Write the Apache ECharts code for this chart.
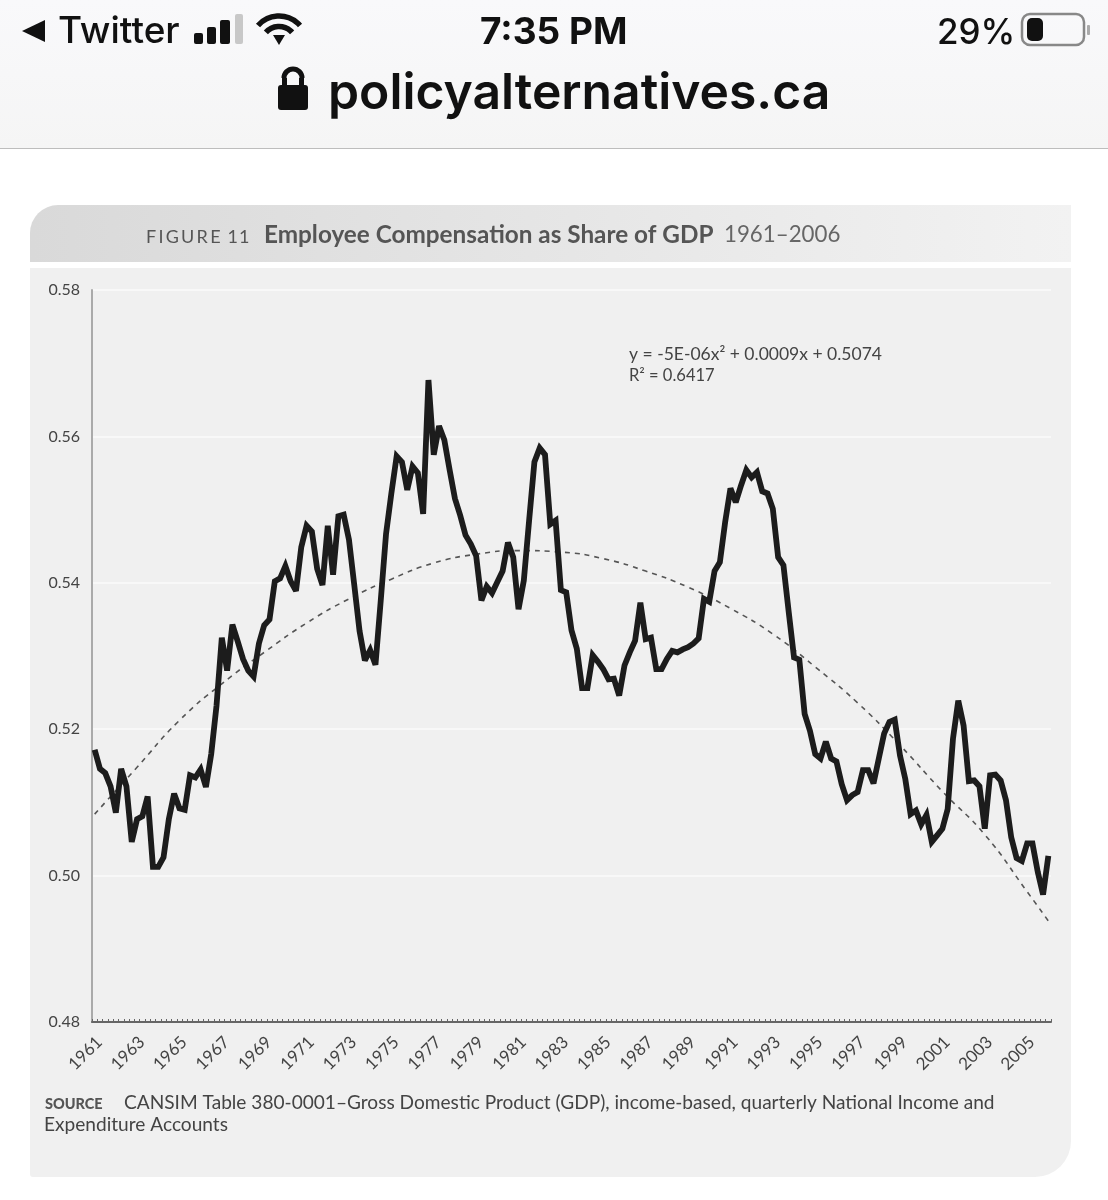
<!DOCTYPE html>
<html><head><meta charset="utf-8">
<style>html,body{margin:0;padding:0;background:#fff}#c{width:1108px;height:1200px}</style>
<script src="https://cdn.jsdelivr.net/npm/echarts@6/dist/echarts.min.js"></script>
</head><body><div id="c"></div>
<script>
const yearTicks = ['1961','1963','1965','1967','1969','1971','1973','1975','1977','1979','1981','1983','1985','1987','1989','1991','1993','1995','1997','1999','2001','2003','2005'];
const yTicks = [0.48,0.50,0.52,0.54,0.56,0.58];
const share = [
.5172,.5146,.5140,.5122,.5086,.5146,.5122,.5046,.5077,.5081,.5108,.5012,.5012,.5025,.5077,.5112,.5092,.5090,.5137,.5134,
.5145,.5121,.5166,.5232,.5325,.5280,.5343,.5320,.5296,.5280,.5272,.5317,.5342,.5350,.5402,.5406,.5423,.5402,.5389,.5449,
.5478,.5470,.5419,.5397,.5478,.5411,.5491,.5493,.5459,.5397,.5334,.5294,.5308,.5288,.5376,.5467,.5522,.5573,.5565,.5527,
.5559,.5550,.5494,.5677,.5575,.5614,.5595,.5554,.5515,.5492,.5465,.5453,.5437,.5376,.5395,.5386,.5401,.5416,.5455,.5435,
.5364,.5403,.5485,.5565,.5584,.5575,.5480,.5485,.5390,.5387,.5335,.5310,.5256,.5256,.5301,.5292,.5282,.5268,.5269,.5246,
.5287,.5305,.5321,.5373,.5323,.5325,.5282,.5282,.5296,.5307,.5305,.5309,.5312,.5317,.5324,.5378,.5374,.5416,.5428,.5483,
.5529,.5510,.5533,.5554,.5544,.5551,.5525,.5522,.5501,.5435,.5424,.5360,.5298,.5295,.5221,.5198,.5166,.5160,.5183,.5160,
.5156,.5125,.5103,.5110,.5114,.5144,.5144,.5126,.5160,.5194,.5210,.5213,.5164,.5132,.5084,.5089,.5070,.5083,.5046,.5055,
.5064,.5091,.5187,.5239,.5205,.5129,.5130,.5122,.5064,.5137,.5138,.5130,.5103,.5052,.5024,.5020,.5044,.5044,.5005,.4974,.5027];
const trendQuarterIndex = [0,8,16,24,32,40,48,56,64,72,80,88,96,104,112,120,128,136,144,152,160,168,176,180];
const trendValues = [.5084,.5148,.5212,.5262,.5305,.5345,.5378,.5405,.5427,.5439,.5444,.5442,.5433,.5416,.5394,.5365,.5330,.5285,.5236,.5178,.5115,.5056,.4978,.4938];

const categories = share.map((_, i) => (1961 + Math.floor(i / 4)) + ' Q' + (i % 4 + 1));
const trendData = trendQuarterIndex.map((q, i) => [q, trendValues[i]]);
const font = 'Lato';
const ui = 'Inter';
const txt = (x, y, text, size, weight, fill, family) => ({type:'text', silent:true, style:{x, y, text, fontSize:size, fontWeight:weight, fill, fontFamily:family||font, textVerticalAlign:'middle'}});
const rect = (x, y, w, h, fill, r) => ({type:'rect', silent:true, shape:{x, y, width:w, height:h, r:r||0}, style:{fill}});
const arcUp = (cx, cy, r, w) => ({type:'arc', silent:true, shape:{cx, cy, r, startAngle:-Math.PI*0.77, endAngle:-Math.PI*0.23}, style:{stroke:'#111', fill:null, lineWidth:w}});

const graphic = [
  {type:'rect', silent:true, shape:{x:0,y:0,width:1108,height:148}, style:{fill:{type:'linear',x:0,y:0,x2:0,y2:1,colorStops:[{offset:0,color:'#f9f9fb'},{offset:1,color:'#f5f5f5'}]}}},
  rect(0,148,1108,1,'#bdbdbd'),
  {type:'polygon', silent:true, shape:{points:[[22,31],[45,20],[45,42]]}, style:{fill:'#111'}},
  txt(58,32,'Twitter',37,500,'#111',ui),
  rect(194,33,9,11,'#111',2), rect(207,27,9,17,'#111',2), rect(220,20,10,24,'#111',2),
  rect(235,14,8,30,'#c8c8c8',2),
  arcUp(279,44,28,5.5), arcUp(279,44,17.5,5.5),
  {type:'polygon', silent:true, shape:{points:[[273,35],[285,35],[279,45]]}, style:{fill:'#111'}},
  txt(480,33,'7:35 PM',37,700,'#111',ui),
  txt(937,33,'29%',35,500,'#111',ui),
  {type:'rect', silent:true, shape:{x:1022,y:14,width:62,height:31,r:8}, style:{fill:'none',stroke:'#888',lineWidth:2.5}},
  rect(1027,18,16,23,'#111',5),
  rect(1087,25,3,10,'#aaa',1),
  {type:'arc', silent:true, shape:{cx:293,cy:78,r:9,startAngle:Math.PI,endAngle:0}, style:{stroke:'#111',fill:null,lineWidth:5}},
  rect(282,78,5,10,'#111'), rect(299,78,5,10,'#111'),
  rect(278,85,30,25,'#111',3),
  txt(328,94,'policyalternatives.ca',49.8,600,'#111',ui),

  {type:'rect', silent:true, shape:{x:30,y:205,width:1041,height:57,r:[28,0,0,0]}, style:{fill:{type:'linear',x:0,y:0,x2:1,y2:0,colorStops:[{offset:0,color:'#d9d9d9'},{offset:1,color:'#f2f2f2'}]}}},
  {type:'rect', silent:true, shape:{x:30,y:268,width:1041,height:909,r:[0,0,36,3]}, style:{fill:'#f0f0f0'}},
  txt(146,237,'F\u2009I\u2009G\u2009U\u2009R\u2009E\u2009 1\u200A1',18,400,'#555'),
  txt(264,235,'Employee Compensation as Share of GDP',24.3,700,'#555'),
  txt(724,235,'1961–2006',22.3,400,'#666'),
  txt(629,354,'y = -5E-06x² + 0.0009x + 0.5074',17.5,400,'#444'),
  txt(629,376,'R² = 0.6417',16.5,400,'#444'),
  txt(45,1104,'SOURCE',14.5,900,'#555'),
  txt(124,1103,'CANSIM Table 380-0001–Gross Domestic Product (GDP), income-based, quarterly National Income and',19.1,400,'#444'),
  txt(44,1125,'Expenditure Accounts',19.1,400,'#444')
];

const chart = echarts.init(document.getElementById('c'), null, {renderer:'canvas', width:1108, height:1200});
chart.setOption({
  animation:false,
  graphic:{elements:graphic},
  grid:{left:92, top:290, width:959, height:732, containLabel:false},
  xAxis:{type:'category', data:categories, boundaryGap:true,
    axisLine:{lineStyle:{color:'#666', width:2}},
    axisTick:{show:true, interval:0, inside:true, length:3, lineStyle:{color:'#666', width:1}},
    splitLine:{show:false},
    axisLabel:{interval:(i)=>i%8===0, rotate:45, margin:22, fontSize:17, fontFamily:font, color:'#444', align:'center', verticalAlign:'middle',
      formatter:(v)=>yearTicks.includes(v.slice(0,4))?v.slice(0,4)+'\u00A0\u00A0\u00A0\u00A0\u00A0\u00A0':''}},
  yAxis:{type:'value', min:yTicks[0], max:yTicks[5], interval:0.02,
    axisLine:{show:true, lineStyle:{color:'#aaa', width:2}},
    axisTick:{show:false},
    splitLine:{show:true, lineStyle:{color:'#fbfbfb', width:1.5}},
    axisLabel:{margin:12, fontSize:16, fontFamily:font, color:'#444', formatter:(v)=>v.toFixed(2)}},
  series:[
    {type:'line', name:'Trend', data:trendData, smooth:0.5, showSymbol:false, z:2,
      lineStyle:{color:'#555', width:1.6, type:[5,5]}},
    {type:'line', name:'Employee compensation share of GDP', data:share, showSymbol:false, z:3,
      lineStyle:{color:'#1c1c1c', width:5.8, join:'miter', miterLimit:3}}
  ]
});
</script></body></html>
